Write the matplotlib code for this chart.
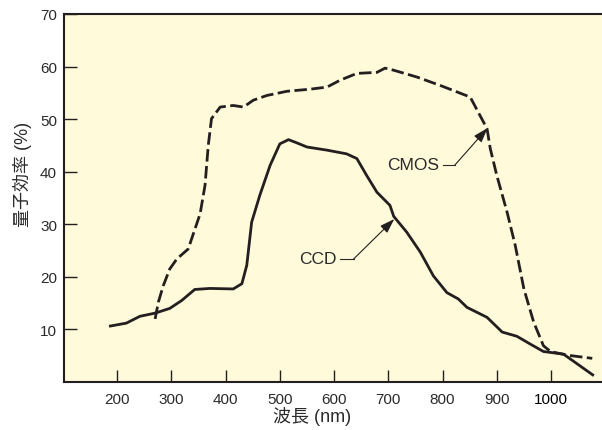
import numpy as np
import matplotlib.pyplot as plt

# CCD quantum efficiency (solid)
wl_ccd = [185, 217, 242, 270, 297, 319, 343, 371, 414, 430, 439, 448, 463, 482,
          500, 516, 531, 550, 587, 623, 642, 660, 679, 703, 710, 734, 759, 783,
          808, 829, 845, 882, 910, 937, 962, 986, 1023, 1079]
qe_ccd = [10.6, 11.2, 12.5, 13.1, 14.0, 15.5, 17.6, 17.8, 17.7, 18.7, 22.2, 30.4,
          35.5, 41.2, 45.3, 46.1, 45.5, 44.7, 44.1, 43.4, 42.5, 39.3, 36.1, 33.6,
          31.5, 28.5, 24.7, 20.2, 17.0, 15.8, 14.2, 12.3, 9.5, 8.7, 7.2, 5.8,
          5.3, 1.2]

# CMOS quantum efficiency (dashed)
wl_cmos = [270, 276, 285, 297, 310, 331, 353, 362, 368, 374, 390, 414, 433, 451,
           476, 513, 556, 587, 611, 642, 679, 694, 710, 753, 796, 851, 869, 882,
           888, 900, 919, 934, 950, 968, 986, 999, 1030, 1076]
qe_cmos = [12.0, 15.2, 18.3, 21.5, 23.4, 25.3, 32.0, 37.4, 45.0, 50.1, 52.3, 52.6,
           52.3, 53.6, 54.5, 55.3, 55.7, 56.1, 57.4, 58.7, 58.9, 59.7, 59.3, 58.0,
           56.4, 54.2, 50.7, 48.2, 44.4, 39.3, 32.3, 26.0, 17.7, 11.4, 6.9, 5.8,
           5.1, 4.5]

xticks = [200, 300, 400, 500, 600, 700, 800, 900, 1000]
yticks = [10, 20, 30, 40, 50, 60, 70]

ink = '#231f20'
txt = '#2a2a2a'
bg = '#fffad9'

fig = plt.figure(figsize=(6.02, 4.31), dpi=100)
ax = fig.add_axes([64 / 602, 48 / 431, 538 / 602, 368 / 431])
ax.set_facecolor(bg)

ax.plot(wl_ccd, qe_ccd, color=ink, lw=2.0, solid_joinstyle='round',
        solid_capstyle='butt')
ax.plot(wl_cmos, qe_cmos, color=ink, lw=2.0, ls=(0, (4.5, 1.6)),
        dash_joinstyle='round')

ax.set_xlim(102, 1094)
ax.set_ylim(0, 70)
ax.set_xticks(xticks)
ax.set_yticks(yticks)
ax.set_xticklabels([str(v) for v in xticks])
ax.set_yticklabels([str(v) for v in yticks])
ax.tick_params(direction='in', length=9, width=1.0, color=ink,
               labelsize=11, labelcolor=txt)
ax.tick_params(axis='y', pad=5)
ax.tick_params(axis='x', pad=7)
for lab in ax.get_xticklabels() + ax.get_yticklabels():
    lab.set_family(['Liberation Sans', 'DejaVu Sans'])
ax.get_xticklabels()[-1].set_color('black')

for s in ['left', 'bottom', 'top']:
    ax.spines[s].set_color(ink)
    ax.spines[s].set_linewidth(1.5)
ax.spines['right'].set_visible(False)

fam = ['Liberation Sans', 'Noto Sans CJK JP']
ax.set_xlabel('波長 (nm)', family=fam, fontsize=13, color=txt)
ax.set_ylabel('量子効率 (%)', family=fam, fontsize=13, color=txt)
ax.xaxis.set_label_coords(0.461, -0.09)
ax.yaxis.set_label_coords(-0.077, 0.567)
ax.xaxis.label.set_va('center')
ax.yaxis.label.set_va('center')

# callouts
ax.text(605, 23.4, 'CCD', ha='right', va='center', family=fam,
        fontsize=12.5, color=txt)
ax.plot([610, 636], [23.4, 23.4], color=txt, lw=0.8)
ax.annotate('', xy=(711, 31.0), xytext=(636, 23.4),
            arrowprops=dict(arrowstyle='-|>,head_length=0.9,head_width=0.3',
                            color=ink, lw=0.8, shrinkA=0, shrinkB=0))

ax.text(794, 41.4, 'CMOS', ha='right', va='center', family=fam,
        fontsize=12.5, color=txt)
ax.plot([800, 823], [41.3, 41.3], color=txt, lw=0.8)
ax.annotate('', xy=(883, 48.3), xytext=(823, 41.3),
            arrowprops=dict(arrowstyle='-|>,head_length=0.9,head_width=0.3',
                            color=ink, lw=0.8, shrinkA=0, shrinkB=0))

fig.savefig('out.png', dpi=100, facecolor='white')
